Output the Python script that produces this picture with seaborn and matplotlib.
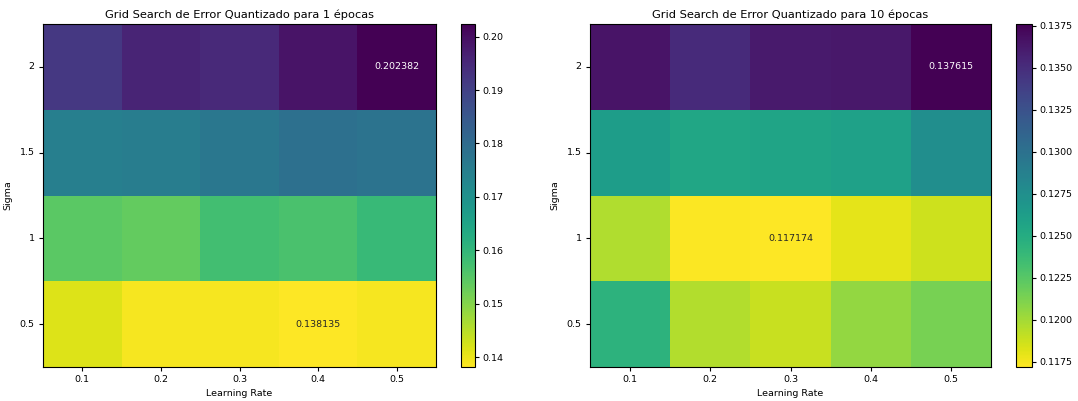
import numpy as np
import pandas as pd
import matplotlib
matplotlib.use("Agg")
import matplotlib.pyplot as plt
import seaborn as sns

learning_rates = ["0.1", "0.2", "0.3", "0.4", "0.5"]
sigmas = ["2", "1.5", "1", "0.5"]

# Error quantizado, 1 época (rows: sigma 2, 1.5, 1, 0.5)
err_1 = [
    [0.1920, 0.1960, 0.1950, 0.1990, 0.202382],
    [0.1750, 0.1755, 0.1770, 0.1790, 0.1780],
    [0.1545, 0.1535, 0.1575, 0.1565, 0.1590],
    [0.1415, 0.1390, 0.1390, 0.138135, 0.1390],
]
# Error quantizado, 10 épocas
err_10 = [
    [0.1365, 0.1352, 0.1362, 0.1363, 0.137615],
    [0.1263, 0.1255, 0.1257, 0.1260, 0.1276],
    [0.1196, 0.1173, 0.117174, 0.1180, 0.1187],
    [0.1245, 0.1195, 0.1189, 0.1205, 0.1214],
]

W, H = 1078, 401
fig = plt.figure(figsize=(W / 100, H / 100), dpi=100)

def px(x0, y0, x1, y1):
    return [x0 / W, 1 - y1 / H, (x1 - x0) / W, (y1 - y0) / H]

panels = [
    (err_1, "Grid Search de Error Quantizado para 1 épocas",
     px(43, 24, 436, 367), px(461, 24, 475, 367),
     [0.14, 0.15, 0.16, 0.17, 0.18, 0.19, 0.20], "{:.2f}"),
    (err_10, "Grid Search de Error Quantizado para 10 épocas",
     px(590, 24, 991, 367), px(1016, 24, 1032, 367),
     [0.1175, 0.1200, 0.1225, 0.1250, 0.1275, 0.1300, 0.1325, 0.1350, 0.1375], "{:.4f}"),
]

for data, title, axr, caxr, cticks, cfmt in panels:
    df = pd.DataFrame(data, index=sigmas, columns=learning_rates)
    arr = df.values
    annot = np.full(arr.shape, "", dtype=object)
    imin = np.unravel_index(np.argmin(arr), arr.shape)
    imax = np.unravel_index(np.argmax(arr), arr.shape)
    annot[imin] = f"{arr[imin]:.6f}"
    annot[imax] = f"{arr[imax]:.6f}"
    ax = fig.add_axes(axr)
    cax = fig.add_axes(caxr)
    sns.heatmap(df, ax=ax, cbar_ax=cax, cmap="viridis_r", annot=annot, fmt="",
                annot_kws={"fontsize": 6.8}, square=False)
    for s in ax.spines.values():
        s.set_visible(True)
        s.set_linewidth(0.8)
        s.set_color("black")
    ax.set_title(title, fontsize=8.2, pad=4)
    ax.set_xlabel("Learning Rate", fontsize=6.8, labelpad=3)
    ax.set_ylabel("Sigma", fontsize=6.8, labelpad=5)
    ax.tick_params(axis="both", labelsize=6.8, length=3, width=0.8, color="black", pad=3)
    ax.set_yticklabels(sigmas, rotation=0)
    ax.set_xticklabels(learning_rates, rotation=0)
    cb = ax.collections[0].colorbar
    cb.set_ticks(cticks)
    cb.set_ticklabels([cfmt.format(t) for t in cticks])
    cb.ax.tick_params(labelsize=6.8, length=3, width=0.8, pad=2)
    cb.outline.set_visible(True)
    cb.outline.set_linewidth(0.8)
    cb.outline.set_edgecolor("black")

fig.savefig("out.png", dpi=100)
